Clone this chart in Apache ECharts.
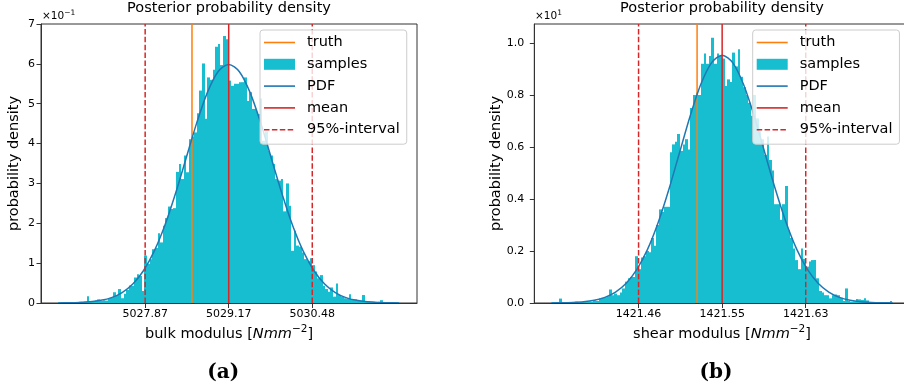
<!DOCTYPE html>
<html><head><meta charset="utf-8">
<script src="https://cdn.jsdelivr.net/npm/echarts@6/dist/echarts.min.js"></script>
<style>html,body{margin:0;padding:0;background:#fff}#c{width:904px;height:392px}</style>
</head><body><div id="c"></div>
<script>
// ---------- data: (a) bulk modulus ----------
const bulkBinStart = 5026.506;
const bulkBinWidth = 0.04095;
const bulkDensity = [
  0.01, 0.00, 0.01, 0.02, 0.00, 0.01, 0.02, 0.02, 0.03, 0.02,
  0.03, 0.17, 0.03, 0.05, 0.06, 0.09, 0.05, 0.07, 0.06, 0.10,
  0.13, 0.27, 0.20, 0.35, 0.12, 0.23, 0.33, 0.44, 0.43, 0.64,
  0.72, 0.68, 0.30, 1.19, 0.98, 1.10, 1.35, 1.38, 1.75, 1.52,
  1.94, 2.13, 2.42, 2.36, 2.38, 3.29, 3.49, 3.11, 3.70, 3.28,
  4.11, 4.18, 4.28, 4.76, 5.33, 6.01, 4.62, 5.66, 5.60, 5.85,
  6.43, 6.50, 5.97, 6.70, 6.62, 5.58, 5.45, 5.50, 5.50, 5.54,
  5.54, 5.66, 5.07, 5.29, 4.87, 4.87, 4.74, 5.13, 4.07, 4.30,
  3.82, 3.70, 3.49, 3.11, 3.07, 3.11, 2.30, 3.00, 2.44, 1.31,
  1.81, 1.44, 1.41, 1.27, 1.10, 1.05, 1.12, 0.95, 0.79, 0.62,
  0.70, 0.43, 0.35, 0.28, 0.39, 0.16, 0.49, 0.20, 0.16, 0.12,
  0.11, 0.22, 0.10, 0.09, 0.07, 0.06, 0.20, 0.05, 0.04, 0.03,
  0.03, 0.02, 0.03, 0.07, 0.02, 0.01, 0.02, 0.01, 0.01, 0.01
];
const bulkPdfX = [
  5026.509, 5026.675, 5026.842, 5027.009, 5027.175, 5027.342, 5027.508, 5027.675,
  5027.841, 5028.008, 5028.175, 5028.341, 5028.508, 5028.674, 5028.841, 5029.007,
  5029.174,
  5029.341, 5029.507, 5029.674, 5029.840, 5030.007, 5030.173, 5030.340, 5030.507,
  5030.673, 5030.840, 5031.006, 5031.173, 5031.340, 5031.506, 5031.673, 5031.839
];
const bulkPdfY = [
  0.002, 0.0053, 0.0131, 0.0304, 0.0665, 0.136, 0.263, 0.476,
  0.810, 1.295, 1.944, 2.741, 3.631, 4.519, 5.284, 5.803,
  5.987,
  5.803, 5.284, 4.519, 3.631, 2.741, 1.944, 1.295, 0.810,
  0.476, 0.263, 0.136, 0.0665, 0.0304, 0.0131, 0.0053, 0.002
];
const bulkTruth = 5028.600;
const bulkMean = 5029.174;
const bulkInterval = [5027.868, 5030.480];
const bulkXTicks = [5027.868, 5029.174, 5030.480];
const bulkXLabels = ['5027.87', '5029.17', '5030.48'];
const bulkYTicks = [0, 1, 2, 3, 4, 5, 6, 7];
const bulkYLabels = ['0', '1', '2', '3', '4', '5', '6', '7'];

// ---------- data: (b) shear modulus ----------
const shearBinStart = 1421.37847;
const shearBinWidth = 0.0025745;
const shearDensity = [
  0.004, 0.003, 0.002, 0.017, 0.002, 0.003, 0.004, 0.002, 0.003, 0.005,
  0.002, 0.004, 0.005, 0.003, 0.006, 0.005, 0.010, 0.008, 0.018, 0.020,
  0.022, 0.025, 0.052, 0.030, 0.036, 0.030, 0.040, 0.056, 0.082, 0.095,
  0.100, 0.100, 0.180, 0.130, 0.175, 0.180, 0.200, 0.195, 0.250, 0.220,
  0.300, 0.360, 0.350, 0.370, 0.370, 0.580, 0.610, 0.620, 0.650, 0.585,
  0.610, 0.630, 0.590, 0.750, 0.800, 0.810, 0.800, 0.920, 0.960, 0.920,
  0.950, 1.020, 0.920, 0.960, 0.950, 0.940, 0.835, 0.860, 0.850, 0.963,
  0.910, 0.976, 0.870, 0.830, 0.800, 0.770, 0.720, 0.800, 0.710, 0.660,
  0.630, 0.570, 0.640, 0.550, 0.510, 0.380, 0.380, 0.320, 0.380, 0.450,
  0.280, 0.250, 0.210, 0.165, 0.130, 0.210, 0.170, 0.140, 0.160, 0.165,
  0.165, 0.095, 0.046, 0.040, 0.030, 0.030, 0.018, 0.030, 0.033, 0.030,
  0.020, 0.008, 0.056, 0.008, 0.005, 0.006, 0.015, 0.014, 0.012, 0.018,
  0.010, 0.004, 0.003, 0.003, 0.002, 0.003, 0.002, 0.002, 0.003, 0.008
];
const shearPdfX = [
  1421.37856, 1421.38903, 1421.39949, 1421.40996, 1421.42042, 1421.43089, 1421.44135, 1421.45182,
  1421.46228, 1421.47275, 1421.48321, 1421.49368, 1421.50414, 1421.51461, 1421.52507, 1421.53554,
  1421.54600,
  1421.55647, 1421.56693, 1421.57740, 1421.58786, 1421.59833, 1421.60879, 1421.61926, 1421.62972,
  1421.64019, 1421.65065, 1421.66112, 1421.67158, 1421.68205, 1421.69251, 1421.70298, 1421.71344
];
const shearPdfY = [
  0.0003, 0.0008, 0.0021, 0.0048, 0.0106, 0.0217, 0.0419, 0.0758,
  0.1290, 0.2061, 0.3094, 0.4363, 0.5780, 0.7194, 0.8410, 0.9237,
  0.9530,
  0.9237, 0.8410, 0.7194, 0.5780, 0.4363, 0.3094, 0.2061, 0.1290,
  0.0758, 0.0419, 0.0217, 0.0106, 0.0048, 0.0021, 0.0008, 0.0003
];
const shearTruth = 1421.5214;
const shearMean = 1421.546;
const shearInterval = [1421.46395, 1421.62805];
const shearXTicks = [1421.46395, 1421.546, 1421.62805];
const shearXLabels = ['1421.46', '1421.55', '1421.63'];
const shearYTicks = [0, 0.2, 0.4, 0.6, 0.8, 1.0];
const shearYLabels = ['0.0', '0.2', '0.4', '0.6', '0.8', '1.0'];

const legendNames = ['truth', 'samples', 'PDF', 'mean', '95%-interval'];

// ---------- build ----------
const FONT = 'DejaVu Sans';
const C_HIST = '#17becf', C_PDF = '#1f77b4', C_TRUTH = '#ff7f0e', C_MEAN = '#d62728', C_INT = '#d62728';
const AX = '#333333';
const ICON_LINE = 'path://M0,0H31V1.6H0Z';
const ICON_DASH = 'path://M0,0h5.5v1.6h-5.5zM7.9,0h5.5v1.6h-5.5zM15.8,0h5.5v1.6h-5.5zM23.7,0h5.5v1.6h-5.5zM31,0h0.01v1.6h-0.01z';

function bins(start, width, dens) {
  return dens.map((d, i) => [start + i * width, start + (i + 1) * width, d]);
}
function lookup(vals, labels) {
  return function (v) {
    for (let i = 0; i < vals.length; i++) if (Math.abs(v - vals[i]) < 1e-7) return labels[i];
    return '';
  };
}
function renderBar(params, api) {
  const p0 = api.coord([api.value(0), api.value(2)]);
  const p1 = api.coord([api.value(1), 0]);
  const x0 = Math.round(p0[0]), x1 = Math.round(p1[0]);
  return {
    type: 'rect',
    shape: { x: x0, y: p0[1], width: x1 - x0, height: p1[1] - p0[1] },
    style: { fill: C_HIST }
  };
}
function xAxisCfg(gi, min, max, ticks, labels) {
  return {
    gridIndex: gi, type: 'value', min: min, max: max, z: 5,
    axisLine: { show: true, onZero: false, lineStyle: { color: AX, width: 1 } },
    axisTick: { show: true, customValues: ticks, length: 5, lineStyle: { color: AX, width: 1 } },
    axisLabel: { show: true, customValues: ticks, formatter: lookup(ticks, labels), margin: 6,
      fontSize: 11, fontFamily: FONT, color: '#000' },
    splitLine: { show: false }
  };
}
function yAxisCfg(gi, max, ticks, labels, margin) {
  return {
    gridIndex: gi, type: 'value', min: 0, max: max, z: 5,
    axisLine: { show: true, onZero: false, lineStyle: { color: AX, width: 1 } },
    axisTick: { show: true, customValues: ticks, length: 4.5, lineStyle: { color: AX, width: 1 } },
    axisLabel: { show: true, customValues: ticks, formatter: lookup(ticks, labels), margin: margin,
      fontSize: 11, fontFamily: FONT, color: '#000' },
    splitLine: { show: false }
  };
}
function vline(name, gi, x, ymax, color, type) {
  return {
    type: 'line', name: name, xAxisIndex: gi, yAxisIndex: gi, data: [[x, 0], [x, ymax]],
    symbol: 'none', silent: true, itemStyle: { color: color },
    lineStyle: { color: color, width: 1.5, type: type || 'solid' }, z: 3
  };
}
function seriesFor(gi, binStart, binWidth, dens, pdfX, pdfY, truth, mean, interval, ymax) {
  return [
    { type: 'custom', name: 'samples', xAxisIndex: gi, yAxisIndex: gi,
      data: bins(binStart, binWidth, dens), encode: { x: [0, 1], y: 2 },
      renderItem: renderBar, itemStyle: { color: C_HIST }, silent: true, z: 2 },
    vline('truth', gi, truth, ymax, C_TRUTH),
    { type: 'line', name: 'PDF', xAxisIndex: gi, yAxisIndex: gi,
      data: pdfX.map((x, i) => [x, pdfY[i]]), symbol: 'none', smooth: 0.3, silent: true,
      itemStyle: { color: C_PDF }, lineStyle: { color: C_PDF, width: 1.5 }, z: 3 },
    vline('mean', gi, mean, ymax, C_MEAN),
    vline('95%-interval', gi, interval[0], ymax, C_INT, [5.5, 2.4]),
    vline('95%-interval', gi, interval[1], ymax, C_INT, [5.5, 2.4])
  ];
}
function legendCfg(left) {
  const icons = { 'truth': ICON_LINE, 'samples': 'rect', 'PDF': ICON_LINE, 'mean': ICON_LINE, '95%-interval': ICON_DASH };
  return {
    orient: 'vertical', left: left, top: 30, padding: [4, 7, 6, 4], itemGap: 4.8,
    itemWidth: 31, itemHeight: 11, selectedMode: false, symbolKeepAspect: true,
    data: legendNames.map(n => ({ name: n, icon: icons[n] })),
    textStyle: { fontSize: 14.5, fontFamily: FONT, color: '#000', lineHeight: 17, padding: [0, 0, 0, 7] },
    backgroundColor: 'rgba(255,255,255,0.8)', borderColor: '#cccccc', borderWidth: 1, borderRadius: 3
  };
}
function axisTitle(x, y, main, rot) {
  return {
    type: 'text', x: x, y: y, rotation: rot || 0, z: 10,
    style: { text: main, align: 'center', verticalAlign: 'middle', fontSize: 14.5, fontFamily: FONT, fill: '#000' }
  };
}
function richLabel(x, y, word) {
  return {
    type: 'text', x: x, y: y, z: 10,
    style: {
      text: '{a|' + word + ' modulus [}{i|Nmm}{s|\u22122}{a|]}', align: 'center', verticalAlign: 'middle',
      rich: {
        a: { fontSize: 14.5, fontFamily: FONT, fill: '#000', lineHeight: 20 },
        i: { fontSize: 14.5, fontFamily: FONT, fontStyle: 'italic', fill: '#000', lineHeight: 20 },
        s: { fontSize: 10.5, fontFamily: FONT, fill: '#000', lineHeight: 11, verticalAlign: 'top' }
      }
    }
  };
}
function offsetLabel(x, y, exp) {
  return {
    type: 'text', x: x, y: y, z: 10,
    style: {
      text: '{a|\u00d710}{s|' + exp + '}', align: 'left', verticalAlign: 'middle',
      rich: {
        a: { fontSize: 10.5, fontFamily: FONT, fill: '#000', lineHeight: 14 },
        s: { fontSize: 7.5, fontFamily: FONT, fill: '#000', lineHeight: 8, verticalAlign: 'top' }
      }
    }
  };
}
function caption(x, y, t) {
  return {
    type: 'text', x: x, y: y, z: 10,
    style: { text: t, align: 'center', verticalAlign: 'middle', fontSize: 20, fontWeight: 'bold',
      fontFamily: 'DejaVu Serif', fill: '#000' }
  };
}

const chart = echarts.init(document.getElementById('c'), null, { renderer: 'canvas' });
chart.setOption({
  animation: false,
  backgroundColor: '#ffffff',
  grid: [
    { left: 41, top: 24, width: 376, height: 279, show: true, borderColor: AX, borderWidth: 1,
      backgroundColor: 'transparent', outerBoundsMode: 'none', containLabel: false },
    { left: 534.3, top: 24, width: 376, height: 279, show: true, borderColor: AX, borderWidth: 1,
      backgroundColor: 'transparent', outerBoundsMode: 'none', containLabel: false }
  ],
  xAxis: [
    xAxisCfg(0, 5026.240, 5032.117, bulkXTicks, bulkXLabels),
    xAxisCfg(1, 1421.3616, 1421.7307, shearXTicks, shearXLabels)
  ],
  yAxis: [
    yAxisCfg(0, 7, bulkYTicks, bulkYLabels, 6),
    yAxisCfg(1, 1.073, shearYTicks, shearYLabels, 10)
  ],
  legend: [legendCfg(260), legendCfg(752.7)],
  series: [].concat(
    seriesFor(0, bulkBinStart, bulkBinWidth, bulkDensity, bulkPdfX, bulkPdfY, bulkTruth, bulkMean, bulkInterval, 7),
    seriesFor(1, shearBinStart, shearBinWidth, shearDensity, shearPdfX, shearPdfY, shearTruth, shearMean, shearInterval, 1.073)
  ),
  graphic: [
    axisTitle(229, 8.5, 'Posterior probability density'),
    axisTitle(722, 8.5, 'Posterior probability density'),
    richLabel(229, 334, 'bulk'),
    richLabel(722, 334, 'shear'),
    axisTitle(14.2, 163.5, 'probability density', Math.PI / 2),
    axisTitle(495.8, 163.5, 'probability density', Math.PI / 2),
    offsetLabel(42, 16, '\u22121'),
    offsetLabel(535, 16, '1'),
    caption(223.3, 373, '(a)'),
    caption(716, 373, '(b)')
  ]
});
</script>
</body></html>
